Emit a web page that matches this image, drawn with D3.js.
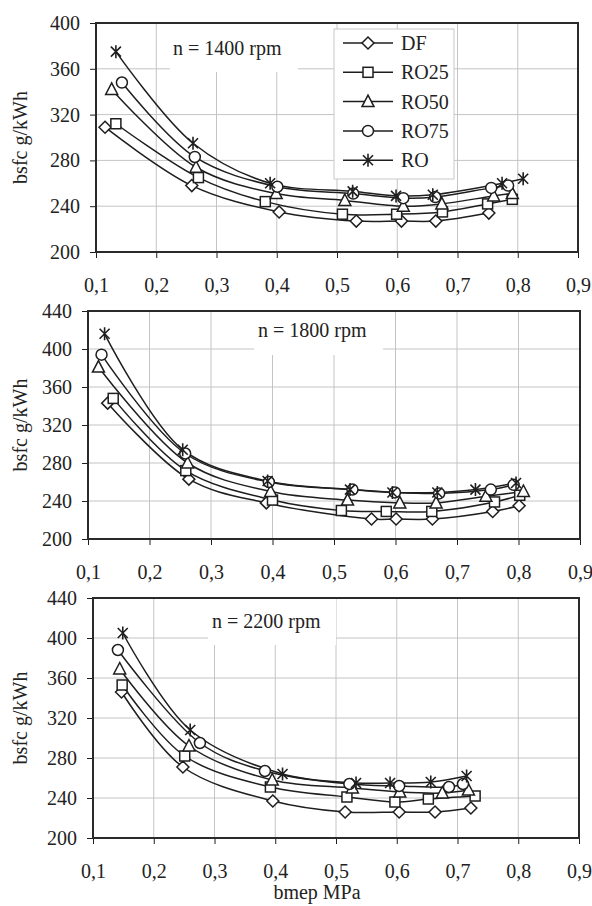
<!DOCTYPE html>
<html>
<head>
<meta charset="utf-8">
<script src="https://cdn.jsdelivr.net/npm/d3@7"></script>
<style>
  body { margin: 0; background: #fff; }
  text { font-family: "Liberation Serif", "Times New Roman", serif; fill: #222; }
</style>
</head>
<body>
<script>
// series names and tick labels
const seriesNames = ["DF", "RO25", "RO50", "RO75", "RO"];
const speedLabels = ["n = 1400 rpm", "n = 1800 rpm", "n = 2200 rpm"];
const xTicks = [0.1, 0.2, 0.3, 0.4, 0.5, 0.6, 0.7, 0.8, 0.9];
const yTicks1400 = [200, 240, 280, 320, 360, 400];
const yTicks = [200, 240, 280, 320, 360, 400, 440];

// bmep MPa, bsfc g/kWh  -- n = 1400 rpm
const df1400   = [[0.115,309],[0.259,258],[0.404,235],[0.532,227],[0.607,227],[0.664,227],[0.752,234]];
const ro25_1400 = [[0.133,312],[0.270,265],[0.381,244],[0.509,233],[0.599,233],[0.675,235],[0.750,242],[0.791,246]];
const ro50_1400 = [[0.126,342],[0.266,274],[0.399,251],[0.513,245],[0.610,240],[0.674,242],[0.760,249],[0.791,251]];
const ro75_1400 = [[0.143,348],[0.264,283],[0.401,257],[0.527,251],[0.610,247],[0.663,248],[0.756,256],[0.784,258]];
const ro1400   = [[0.133,375],[0.261,295],[0.389,260],[0.526,253],[0.598,249],[0.659,250],[0.774,260],[0.809,264]];

// n = 1800 rpm
const df1800   = [[0.132,343],[0.264,263],[0.390,238],[0.561,221],[0.601,221],[0.660,221],[0.758,229],[0.801,235]];
const ro25_1800 = [[0.141,348],[0.259,272],[0.400,241],[0.512,230],[0.585,229],[0.659,229],[0.761,239],[0.802,246]];
const ro50_1800 = [[0.117,381],[0.262,280],[0.397,250],[0.522,241],[0.607,238],[0.666,238],[0.747,245],[0.808,250]];
const ro75_1800 = [[0.122,394],[0.258,290],[0.394,260],[0.530,252],[0.599,249],[0.671,248],[0.755,252],[0.792,257]];
const ro1800   = [[0.127,416],[0.254,294],[0.392,261],[0.526,252],[0.595,249],[0.668,249],[0.730,252],[0.796,259]];

// n = 2200 rpm
const df2200   = [[0.147,346],[0.248,271],[0.396,237],[0.515,226],[0.604,226],[0.663,226],[0.722,230]];
const ro25_2200 = [[0.148,353],[0.251,282],[0.392,251],[0.518,241],[0.597,236],[0.652,239],[0.729,242]];
const ro50_2200 = [[0.144,369],[0.258,292],[0.395,258],[0.527,250],[0.605,246],[0.675,245],[0.718,248]];
const ro75_2200 = [[0.141,388],[0.276,295],[0.383,267],[0.522,254],[0.604,252],[0.686,251],[0.709,254]];
const ro2200   = [[0.149,405],[0.260,308],[0.412,264],[0.533,255],[0.589,255],[0.656,256],[0.715,262]];

const panels = [
  {label: speedLabels[0], series: [df1400, ro25_1400, ro50_1400, ro75_1400, ro1400], yTicks: yTicks1400,
   left: 96, right: 578, top: 23, bottom: 252, box: [170, 298, 49], textX: 173, textDy: 32, legend: true},
  {label: speedLabels[1], series: [df1800, ro25_1800, ro50_1800, ro75_1800, ro1800], yTicks: yTicks,
   left: 88, right: 580, top: 311, bottom: 539, box: [254, 383, 44], textX: 258, textDy: 26, legend: false},
  {label: speedLabels[2], series: [df2200, ro25_2200, ro50_2200, ro75_2200, ro2200], yTicks: yTicks,
   left: 93, right: 579, top: 598, bottom: 838, box: [208, 336, 47], textX: 212, textDy: 30, legend: false}
];

const W = 592, H = 906;
const ink = "#1e1e1e";

const svg = d3.select("body").append("svg")
    .attr("width", W)
    .attr("height", H);

// marker drawing, one per series
function drawMarker(g, i, x, y) {
  const s = g.append("g").attr("transform", "translate(" + x + "," + y + ")");
  const st = {fill: "#fff", stroke: ink, "stroke-width": 1.5};
  let el;
  if (i === 0) el = s.append("path").attr("d", "M0,-6L6,0L0,6L-6,0Z");
  else if (i === 1) el = s.append("rect").attr("x", -5).attr("y", -5).attr("width", 10).attr("height", 10);
  else if (i === 2) el = s.append("path").attr("d", "M0,-6.5L6,5L-6,5Z");
  else if (i === 3) el = s.append("circle").attr("r", 5.5);
  else {
    s.append("path")
      .attr("d", "M-5,-5L5,5M-5,5L5,-5M0,-6.5L0,6.5")
      .attr("stroke", ink).attr("stroke-width", 1.6).attr("fill", "none");
    return;
  }
  for (const k in st) el.attr(k, st[k]);
}

panels.forEach(function(p) {
  const x = d3.scaleLinear().domain([0.1, 0.9]).range([p.left, p.right]);
  const y = d3.scaleLinear().domain([200, d3.max(p.yTicks)]).range([p.bottom, p.top]);
  const g = svg.append("g");

  // grid
  g.selectAll(".vg").data(xTicks.slice(1, -1)).enter().append("line")
    .attr("x1", d => x(d)).attr("x2", d => x(d))
    .attr("y1", p.top).attr("y2", p.bottom)
    .attr("stroke", "#c4c4c4").attr("stroke-width", 1);
  g.selectAll(".hg").data(p.yTicks.slice(1, -1)).enter().append("line")
    .attr("x1", p.left).attr("x2", p.right)
    .attr("y1", d => y(d)).attr("y2", d => y(d))
    .attr("stroke", "#c4c4c4").attr("stroke-width", 1);

  // speed label box
  g.append("rect")
    .attr("x", p.box[0]).attr("y", p.top)
    .attr("width", p.box[1] - p.box[0]).attr("height", p.box[2])
    .attr("fill", "#fff");
  g.append("text")
    .attr("x", p.textX).attr("y", p.top + p.textDy)
    .attr("font-size", 20)
    .text(p.label);

  // axes
  const yAxis = d3.axisLeft(y).tickValues(p.yTicks).tickSize(6).tickPadding(10)
    .tickFormat(d3.format("d"));
  const xAxis = d3.axisBottom(x).tickValues(xTicks).tickSize(6).tickPadding(20)
    .tickFormat(d => d3.format(".1f")(d).replace(".", ","));

  const ya = g.append("g").attr("transform", "translate(" + p.left + ",0)").call(yAxis);
  const xa = g.append("g").attr("transform", "translate(0," + p.bottom + ")").call(xAxis);
  [ya, xa].forEach(function(a) {
    a.select(".domain").remove();
    a.selectAll("line").attr("stroke", ink).attr("stroke-width", 1);
    a.selectAll("text").attr("font-size", 20)
      .attr("font-family", "Liberation Serif, serif").attr("fill", ink);
  });

  // frame
  g.append("rect")
    .attr("x", p.left).attr("y", p.top)
    .attr("width", p.right - p.left).attr("height", p.bottom - p.top)
    .attr("fill", "none").attr("stroke", "#2a2a2a").attr("stroke-width", 2);

  // y title
  g.append("text")
    .attr("transform", "translate(27," + ((p.top + p.bottom) / 2) + ") rotate(-90)")
    .attr("text-anchor", "middle")
    .attr("font-size", 20)
    .text("bsfc g/kWh");

  // curves
  const line = d3.line()
    .x(d => x(d[0])).y(d => y(d[1]))
    .curve(d3.curveCatmullRom.alpha(0.5));

  p.series.forEach(function(s, i) {
    g.append("path")
      .attr("d", line(s))
      .attr("fill", "none").attr("stroke", ink).attr("stroke-width", 1.5);
  });
  p.series.forEach(function(s, i) {
    s.forEach(function(d) { drawMarker(g, i, x(d[0]), y(d[1])); });
  });

  // legend
  if (p.legend) {
    const lg = g.append("g");
    lg.append("rect")
      .attr("x", 334).attr("y", 29).attr("width", 120).attr("height", 150)
      .attr("fill", "#fff").attr("stroke", "#c8c8c8").attr("stroke-width", 1);
    seriesNames.forEach(function(name, i) {
      const yy = 43 + i * 29.3;
      lg.append("line")
        .attr("x1", 343).attr("x2", 393).attr("y1", yy).attr("y2", yy)
        .attr("stroke", ink).attr("stroke-width", 1.5);
      drawMarker(lg, i, 368, yy);
      lg.append("text")
        .attr("x", 401).attr("y", yy + 7)
        .attr("font-size", 20)
        .text(name);
    });
  }
});

// x title
svg.append("text")
  .attr("x", 317).attr("y", 899)
  .attr("text-anchor", "middle")
  .attr("font-size", 20)
  .text("bmep MPa");
</script>
</body>
</html>
